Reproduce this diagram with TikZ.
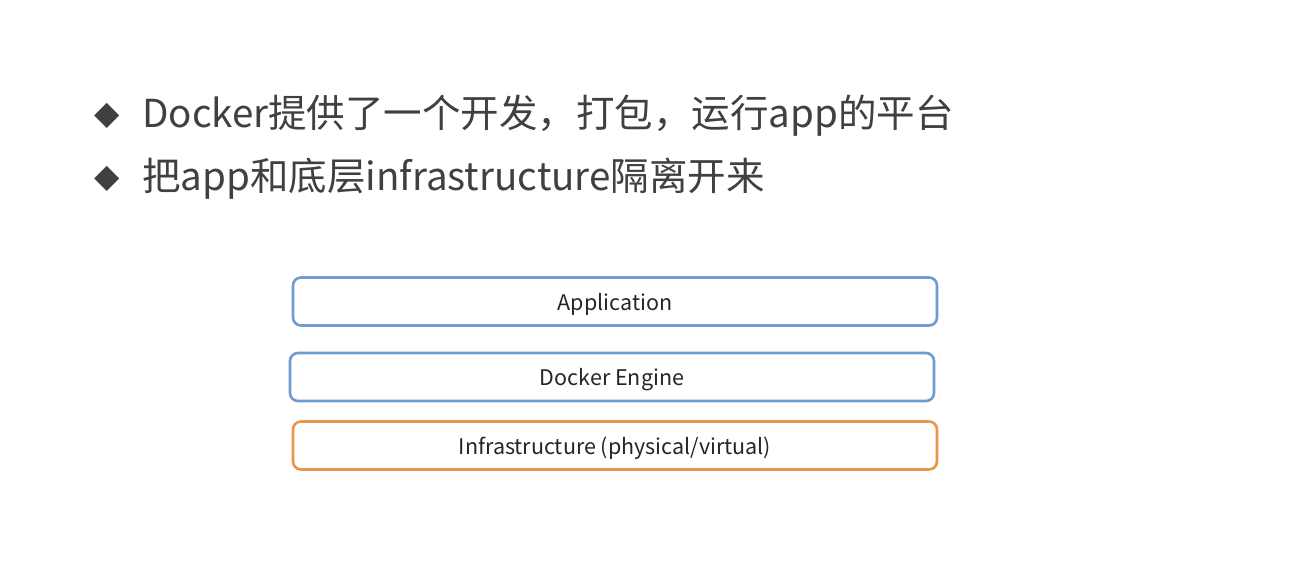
\documentclass[tikz,border=0pt]{standalone}
\usepackage{fontspec}
\newfontfamily\cjk{Noto Sans CJK SC}
\newfontfamily\sym{DejaVu Sans}
\definecolor{txt}{HTML}{404040}
\definecolor{blueb}{HTML}{6E9BD0}
\definecolor{orangeb}{HTML}{E8974A}
\newcommand{\lowered}[1]{\raisebox{-2.5pt}[\height][\depth]{#1}}
\begin{document}
\begin{tikzpicture}[x=1pt,y=-1pt]
\tikzset{
  layer/.style={draw=#1, line width=2.6pt, rounded corners=8pt, fill=white, minimum width=644pt, minimum height=48pt, inner sep=0pt, font=\cjk\fontsize{21.5}{24}\selectfont, text=black!85},
  bullet/.style={font=\sym\fontsize{33}{33}\selectfont, text=txt, inner sep=0pt},
  line/.style={font=\cjk\fontsize{38.5}{42}\selectfont, text=txt, anchor=west, inner sep=0pt}
}
\fill[white] (0,0) rectangle (1292,565);
\useasboundingbox (0,0) rectangle (1292,565);
\node[bullet] (b1) at (107.5,116) {◆};
\node[line] (t1) at (142,116) {Docker提供了一个开发，打包，运行app的平台};
\node[bullet] (b2) at (107.5,179) {◆};
\node[line] (t2) at (142,179) {把app和底层infrastructure隔离开来};
\node[layer=blueb] (app) at (615,301.5) {\lowered{Application}};
\node[layer=blueb] (eng) at (612,377) {\lowered{Docker Engine}};
\node[layer=orangeb] (inf) at (615,445.5) {\lowered{Infrastructure (physical/virtual)}};
\end{tikzpicture}
\end{document}
